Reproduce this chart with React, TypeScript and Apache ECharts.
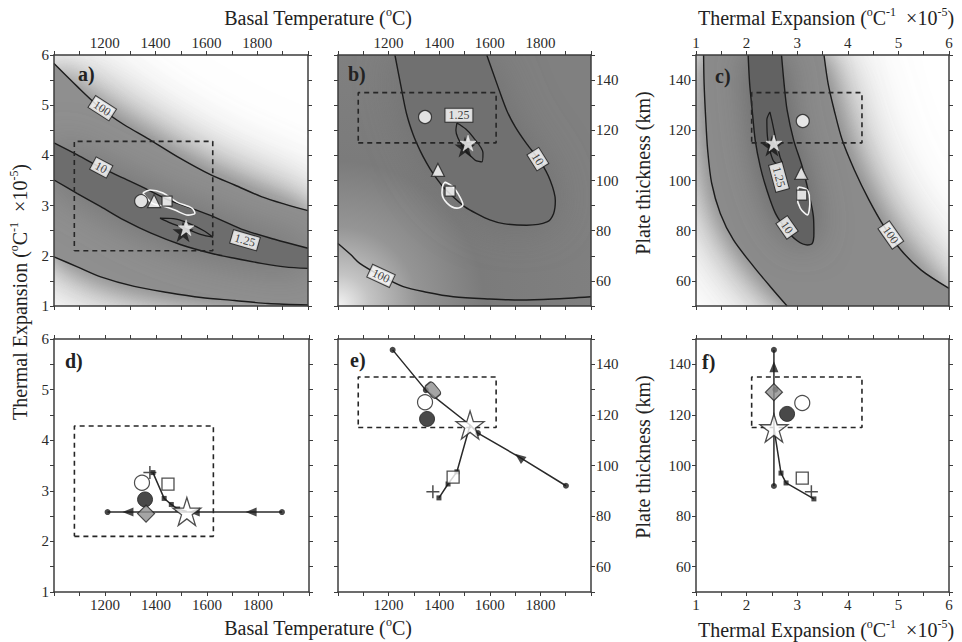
import React, { useEffect, useRef } from 'react';
import * as echarts from 'echarts';

// ---------------- axis tick labels ----------------
const temperatureLabels = [1200, 1400, 1600, 1800];
const expansionLabels = [1, 2, 3, 4, 5, 6];
const thicknessLabels = [60, 80, 100, 120, 140];

// ---------------- dashed "preferred range" box ----------------
const boxTemperature = [1080, 1625];
const boxExpansion = [2.1, 4.28];
const boxThickness = [115, 135];

// ---------------- panel a: temperature vs expansion ----------------
const aContour100Upper = [[1000, 5.83], [1092, 5.37], [1184, 4.94], [1276, 4.61], [1368, 4.34], [1487, 3.97], [1618, 3.61], [1711, 3.41], [1816, 3.18], [1908, 3.03], [2000, 2.9]];
const aContour10Upper = [[1000, 4.25], [1092, 4.01], [1184, 3.76], [1276, 3.54], [1368, 3.32], [1447, 3.12], [1539, 2.95], [1632, 2.77], [1750, 2.51], [1868, 2.33], [2000, 2.15]];
const aContour10Lower = [[1000, 3.51], [1092, 3.24], [1184, 2.98], [1276, 2.71], [1382, 2.45], [1500, 2.22], [1618, 2.05], [1711, 1.95], [1816, 1.85], [1908, 1.78], [2000, 1.75]];
const aContour100Lower = [[1000, 1.98], [1092, 1.78], [1184, 1.58], [1316, 1.39], [1447, 1.27], [1579, 1.17], [1711, 1.11], [1842, 1.05], [2000, 1.02]];
const aEllipse125 = [[1417, 2.75], [1470, 2.74], [1524, 2.66], [1590, 2.5], [1626, 2.37], [1580, 2.42], [1524, 2.53], [1460, 2.65], [1417, 2.75]];
const aWhiteContour = [[1350, 3.25], [1378, 3.31], [1429, 3.25], [1484, 3.07], [1543, 2.95], [1555, 2.85], [1528, 2.81], [1476, 2.91], [1429, 2.99], [1386, 3.05], [1350, 3.25]];
const aContourLabels: [number, number, string][] = [[1190, 4.94, '100'], [1186, 3.76, '10'], [1752, 2.31, '1.25']];
const aCircle = [[1343, 3.09]];
const aTriangle = [[1394, 3.09]];
const aSquare = [[1445, 3.09]];
const aStar = [[1520, 2.56]];
const aStarDark = [[1508, 2.48]];

// ---------------- panel b: temperature vs plate thickness ----------------
const bContour10 = [[1225, 150], [1248, 138], [1271, 126.6], [1298, 118], [1324, 112], [1350, 107], [1376, 102.7], [1415, 97.5], [1456, 93.4], [1500, 89.6], [1548, 86.8], [1600, 84.3], [1654, 82.8], [1746, 82.2], [1826, 83.5], [1852, 86.8], [1859, 92], [1839, 100], [1800, 107.5], [1746, 114.6], [1700, 121.5], [1667, 127.9], [1630, 138], [1588, 150]];
const bContour100 = [[1000, 74.9], [1050, 70.5], [1086, 67], [1165, 62.3], [1258, 57.7], [1350, 55.5], [1456, 53.7], [1600, 52.8], [1720, 52.4], [1850, 52.8], [2000, 53.7]];
const bEllipse125 = [[1470, 122.9], [1505, 120.5], [1534, 117.3], [1573, 111], [1569, 107.4], [1541, 108.2], [1494, 113.3], [1466, 120], [1470, 122.9]];
const bWhiteContour = [[1423, 99.4], [1455, 97.4], [1482, 93.4], [1494, 90.2], [1470, 89], [1431, 91], [1411, 95], [1415, 98.2], [1423, 99.4]];
const bContourLabels: [number, number, string][] = [[1478, 126, '1.25'], [1790, 108.5, '10'], [1170, 62, '100']];
const bCircle = [[1344, 125.3]];
const bTriangle = [[1395, 104.2]];
const bSquare = [[1443, 95.8]];
const bStar = [[1514, 114.9]];
const bStarDark = [[1502, 113.3]];

// ---------------- panel c: expansion vs plate thickness ----------------
const cContour100Left = [[1.15, 150], [1.16, 138.7], [1.19, 125.4], [1.23, 112.2], [1.31, 98.9], [1.48, 86.9], [1.74, 76.3], [2.14, 65.7], [2.47, 57.7], [2.8, 50]];
const cContour100Right = [[6.0, 57], [5.45, 64.3], [5.05, 72.3], [4.72, 81.6], [4.42, 92.2], [4.13, 104.2], [3.89, 116.1], [3.73, 128.1], [3.61, 138.7], [3.53, 150]];
const cContour10Left = [[2.03, 150], [2.06, 138.7], [2.11, 128.1], [2.17, 116.1], [2.27, 105.5], [2.4, 96.2], [2.57, 86.9], [2.79, 80.3], [3.0, 76], [3.2, 74.3]];
const cContour10Right = [[3.3, 75], [3.33, 79], [3.32, 85.6], [3.23, 94.9], [3.1, 105.5], [2.93, 116.1], [2.8, 128.1], [2.74, 138.7], [2.69, 150]];
const cEllipse125 = [[2.46, 127.3], [2.52, 122], [2.58, 116.1], [2.66, 109.4], [2.7, 107], [2.62, 106.5], [2.52, 108.2], [2.42, 116.1], [2.4, 124.1], [2.46, 127.3]];
const cWhiteContour = [[3.02, 97.4], [3.2, 96.2], [3.25, 91], [3.2, 86.3], [3.06, 89], [3.0, 93.4], [3.02, 97.4]];
const cContourLabels: [number, number, string][] = [[2.64, 101.4, '1.25'], [2.8, 81.3, '10'], [4.85, 78.3, '100']];
const cCircle = [[3.11, 123.7]];
const cTriangle = [[3.08, 103]];
const cSquare = [[3.09, 94.2]];
const cStar = [[2.54, 114.9]];
const cStarDark = [[2.5, 113.7]];

// ---------------- panel d ----------------
const dPathMain = [[1210, 2.58], [1894, 2.58]];
const dDots = [[1210, 2.58], [1894, 2.58]];
const dArrows = [[1290, 2.58], [1550, 2.58], [1773, 2.58]];
const dPathSecond = [[1388, 3.36], [1432, 2.85], [1460, 2.73], [1485, 2.64], [1521, 2.59]];
const dSmallSquares = [[1388, 3.36], [1432, 2.85], [1460, 2.73], [1485, 2.64]];
const dWhiteCircle = [[1345, 3.16]];
const dBlackCircle = [[1357, 2.83]];
const dDiamond = [[1361, 2.55]];
const dSquare = [[1447, 3.13]];
const dPlus = [[1376, 3.36]];
const dStar = [[1521, 2.59]];

// ---------------- panel e ----------------
const ePathMain = [[1216, 145.7], [1347, 129.8], [1522, 116], [1553, 112.8], [1717, 103.3], [1901, 92]];
const eDots = [[1216, 145.7], [1347, 129.8], [1553, 112.8], [1901, 92]];
const eArrows = [[1717, 103.3]];
const ePathSecond = [[1399, 87.2], [1435, 92.7], [1470, 97.5], [1522, 116]];
const eSmallSquares = [[1399, 87.2], [1435, 92.7], [1470, 97.5]];
const eWhiteCircle = [[1344, 125]];
const eBlackCircle = [[1352, 118.4]];
const eDiamond = [[1375, 129.8]];
const eSquare = [[1455, 95.4]];
const ePlus = [[1375, 89.6]];
const eStar = [[1522, 116]];

// ---------------- panel f ----------------
const fPathMain = [[2.54, 145.7], [2.54, 91.9]];
const fDots = [[2.54, 145.7], [2.57, 130], [2.54, 91.9]];
const fArrows = [[2.54, 139]];
const fPathSecond = [[2.54, 114.8], [2.68, 97], [2.78, 93.1], [3.33, 86.8]];
const fSmallSquares = [[2.68, 97], [2.78, 93.1], [3.33, 86.8]];
const fWhiteCircle = [[3.1, 124.7]];
const fBlackCircle = [[2.8, 120.4]];
const fDiamond = [[2.54, 129]];
const fSquare = [[3.1, 95]];
const fPlus = [[3.28, 89.6]];
const fStar = [[2.54, 114.8]];

// ---------------- styling ----------------
const SERIF = '"Liberation Serif", "DejaVu Serif", serif';
const INK = '#222';
const FRAME = '#3c3c3c';
const STAR = 'path://M50,0L61.2,34.5L97.6,34.5L68.2,55.9L79.4,90.5L50,69.1L20.6,90.5L31.8,55.9L2.4,34.5L38.8,34.5Z';
const PLUS = 'path://M0,6L12,6M6,0L6,12';

const GRIDS = [
  { left: 54, top: 55, width: 254, height: 251 },
  { left: 338, top: 55, width: 253, height: 251 },
  { left: 696, top: 55, width: 253, height: 251 },
  { left: 54, top: 339, width: 255, height: 253 },
  { left: 338, top: 339, width: 253, height: 253 },
  { left: 696, top: 339, width: 253, height: 253 },
];

const AXES: Record<string, { min: number; max: number; interval: number; labels: number[] }> = {
  T: { min: 1000, max: 2000, interval: 100, labels: temperatureLabels },
  A: { min: 1, max: 6, interval: 0.5, labels: expansionLabels },
  L: { min: 50, max: 150, interval: 10, labels: thicknessLabels },
};

const PANELS = [
  { x: 'T', y: 'A', xl: 'top', yl: 'left' },
  { x: 'T', y: 'L', xl: 'top', yl: 'right' },
  { x: 'A', y: 'L', xl: 'top', yl: 'left' },
  { x: 'T', y: 'A', xl: 'bottom', yl: 'left' },
  { x: 'T', y: 'L', xl: 'bottom', yl: 'right' },
  { x: 'A', y: 'L', xl: 'bottom', yl: 'left' },
];

function axis(gi: number, pos: string, show: boolean, kind: string) {
  const c = AXES[kind];
  return {
    type: 'value', gridIndex: gi, position: pos, min: c.min, max: c.max, interval: c.interval, z: 10,
    axisLine: { show: true, onZero: false, lineStyle: { color: FRAME, width: 1.5 } },
    axisTick: { show: true, inside: false, length: 4, lineStyle: { color: FRAME, width: 1 } },
    splitLine: { show: false },
    axisLabel: {
      show: show, margin: 5, fontFamily: SERIF, fontSize: 15, color: '#2a2a2a',
      showMinLabel: true, showMaxLabel: true, hideOverlap: false,
      formatter: (v: number) => (c.labels.includes(v) ? String(v) : ''),
    },
  };
}

const ax = (gi: number) => ({ xAxisIndex: 2 * gi, yAxisIndex: 2 * gi, silent: true, animation: false });

function line(gi: number, data: number[][], color: string, width: number, z: number, opts: any = {}) {
  return { type: 'line', ...ax(gi), data, symbol: 'none', smooth: opts.smooth ?? 0.3, z,
    lineStyle: { color, width, type: opts.dash ?? 'solid' } };
}

function scat(gi: number, data: number[][], symbol: string, size: any, style: any, z: number, rotate = 0) {
  return { type: 'scatter', ...ax(gi), data, symbol, symbolSize: size, symbolRotate: rotate, itemStyle: style, z };
}

function shade(gi: number, pts: number[][], fill: string, blur: number, shadow?: string) {
  return {
    type: 'custom', ...ax(gi), clip: true, z: 1, data: [pts[0]],
    renderItem: (_p: any, api: any) => ({
      type: 'polygon',
      shape: { points: pts.map((q) => api.coord(q)) },
      style: { fill, shadowBlur: blur, shadowColor: shadow ?? fill },
    }),
  };
}

function labels(gi: number, items: [number, number, string][], angles: number[]) {
  return {
    type: 'scatter', ...ax(gi), symbolSize: 1, itemStyle: { color: 'rgba(0,0,0,0)' }, z: 8,
    data: items.map(([x, y, t], i) => ({ value: [x, y], name: t, label: { rotate: angles[i] } })),
    label: { show: true, position: 'inside', formatter: '{b}', fontFamily: SERIF, fontSize: 12, color: '#111',
      backgroundColor: '#fff', borderColor: INK, borderWidth: 1, padding: [1, 3, 0, 3] },
  };
}

function box(xr: number[], yr: number[]) {
  return [[xr[0], yr[0]], [xr[1], yr[0]], [xr[1], yr[1]], [xr[0], yr[1]], [xr[0], yr[0]]];
}

const whiteMark = { color: '#fff', borderColor: INK, borderWidth: 1.2 };

function topMarkers(gi: number, circle: number[][], tri: number[][], sq: number[][], star: number[][], starDark: number[][]) {
  return [
    scat(gi, circle, 'circle', 13, whiteMark, 6),
    scat(gi, tri, 'triangle', 13, whiteMark, 6),
    scat(gi, sq, 'rect', 10, whiteMark, 6),
    scat(gi, starDark, STAR, 21, { color: '#161616' }, 6),
    scat(gi, star, STAR, 16, { color: '#fff', borderColor: '#fff', borderWidth: 0.5 }, 7),
  ];
}

function bottomMarkers(gi: number, wc: number[][], bc: number[][], dia: number[][], sq: number[][], plus: number[][], star: number[][], diaSize: any, diaRot: number, diaSym: string) {
  return [
    scat(gi, wc, 'circle', 15, whiteMark, 6),
    scat(gi, bc, 'circle', 15, { color: '#1c1c1c', borderColor: INK, borderWidth: 1 }, 6),
    scat(gi, dia, diaSym, diaSize, { color: '#8e8e8e', borderColor: INK, borderWidth: 1.2 }, 6, diaRot),
    scat(gi, sq, 'rect', 12, { color: '#fff', borderColor: INK, borderWidth: 1.3 }, 6),
    scat(gi, plus, PLUS, 13, { color: 'rgba(0,0,0,0)', borderColor: INK, borderWidth: 1.5 }, 6),
    scat(gi, star, STAR, 28, { color: '#fff', borderColor: INK, borderWidth: 1.3 }, 7),
  ];
}

function pathSeries(gi: number, main: number[][], second: number[][], dots: number[][], squares: number[][], arrows: number[][], arrowRot: number) {
  return [
    line(gi, main, '#2a2a2a', 1.5, 4, { smooth: false }),
    line(gi, second, '#2a2a2a', 1.5, 4, { smooth: false }),
    scat(gi, dots, 'circle', 6, { color: '#1a1a1a' }, 5),
    scat(gi, squares, 'rect', 5, { color: '#1a1a1a' }, 5),
    scat(gi, arrows, 'triangle', [9, 11], { color: '#1a1a1a' }, 5, arrowRot),
  ];
}

function buildOption() {
  const xAxes: any[] = [];
  const yAxes: any[] = [];
  PANELS.forEach((p, gi) => {
    xAxes.push(axis(gi, 'bottom', p.xl === 'bottom', p.x), axis(gi, 'top', p.xl === 'top', p.x));
    yAxes.push(axis(gi, 'left', p.yl === 'left', p.y), axis(gi, 'right', p.yl === 'right', p.y));
  });

  const grids = GRIDS.map((g, i) => ({
    ...g,
    show: i === 1,
    borderWidth: 0,
    backgroundColor: i === 1
      ? new echarts.graphic.RadialGradient(0, 1, 1.05, [
          { offset: 0, color: '#f4f4f4' },
          { offset: 0.12, color: '#c4c4c4' },
          { offset: 0.3, color: '#959595' },
          { offset: 0.55, color: '#7b7b7b' },
          { offset: 1, color: '#808080' },
        ])
      : 'transparent',
  }));

  const aBand100 = [...aContour100Upper, ...[...aContour100Lower].reverse()];
  const aBand10 = [...aContour10Upper, ...[...aContour10Lower].reverse()];
  const cBand100 = [...cContour100Left, [AXES.A.max, AXES.L.min], ...cContour100Right];
  const cBand10 = [...cContour10Left, ...cContour10Right];

  const cLine = '#1c1c1c';
  const series: any[] = [
    // ---- a ----
    shade(0, aBand100, '#8f8f8f', 80, '#8a8a8a'),
    shade(0, aBand100, '#8f8f8f', 50, '#8a8a8a'),
    shade(0, aBand100, '#8f8f8f', 25, '#8a8a8a'),
    shade(0, aBand10, '#6d6d6d', 40),
    line(0, aContour100Upper, cLine, 1.4, 3),
    line(0, aContour10Upper, cLine, 1.4, 3),
    line(0, aContour10Lower, cLine, 1.4, 3),
    line(0, aContour100Lower, cLine, 1.4, 3),
    line(0, aEllipse125, cLine, 1.3, 3),
    line(0, aWhiteContour, '#f4f4f4', 1.6, 3),
    line(0, box(boxTemperature, boxExpansion), '#262626', 1.6, 4, { smooth: false, dash: [5, 4] }),
    labels(0, aContourLabels, [-33, -28, -16]),
    ...topMarkers(0, aCircle, aTriangle, aSquare, aStar, aStarDark),
    // ---- b ----
    shade(1, bContour10, '#707070', 45),
    line(1, bContour10, cLine, 1.4, 3),
    line(1, bContour100, cLine, 1.4, 3),
    line(1, bEllipse125, cLine, 1.3, 3),
    line(1, bWhiteContour, '#f4f4f4', 1.6, 3),
    line(1, box(boxTemperature, boxThickness), '#262626', 1.6, 4, { smooth: false, dash: [5, 4] }),
    labels(1, bContourLabels, [0, -58, -25]),
    ...topMarkers(1, bCircle, bTriangle, bSquare, bStar, bStarDark),
    // ---- c ----
    shade(2, cBand100, '#8b8b8b', 80, '#888888'),
    shade(2, cBand100, '#8b8b8b', 50, '#888888'),
    shade(2, cBand100, '#8b8b8b', 25, '#888888'),
    shade(2, cBand10, '#626262', 35),
    line(2, cContour100Left, cLine, 1.4, 3),
    line(2, cContour100Right, cLine, 1.4, 3),
    line(2, cBand10, cLine, 1.4, 3),
    line(2, cEllipse125, cLine, 1.3, 3),
    line(2, cWhiteContour, '#f4f4f4', 1.6, 3),
    line(2, box(boxExpansion, boxThickness), '#262626', 1.6, 4, { smooth: false, dash: [5, 4] }),
    labels(2, cContourLabels, [-75, -55, -55]),
    ...topMarkers(2, cCircle, cTriangle, cSquare, cStar, cStarDark),
    // ---- d ----
    line(3, box(boxTemperature, boxExpansion), '#262626', 1.6, 3, { smooth: false, dash: [5, 4] }),
    ...pathSeries(3, dPathMain, dPathSecond, dDots, dSmallSquares, dArrows, 90),
    ...bottomMarkers(3, dWhiteCircle, dBlackCircle, dDiamond, dSquare, dPlus, dStar, 17, 0, 'diamond'),
    // ---- e ----
    line(4, box(boxTemperature, boxThickness), '#262626', 1.6, 3, { smooth: false, dash: [5, 4] }),
    ...pathSeries(4, ePathMain, ePathSecond, eDots, eSmallSquares, eArrows, 52),
    ...bottomMarkers(4, eWhiteCircle, eBlackCircle, eDiamond, eSquare, ePlus, eStar, [16, 10], -50, 'roundRect'),
    // ---- f ----
    line(5, box(boxExpansion, boxThickness), '#262626', 1.6, 3, { smooth: false, dash: [5, 4] }),
    ...pathSeries(5, fPathMain, fPathSecond, fDots, fSmallSquares, fArrows, 0),
    ...bottomMarkers(5, fWhiteCircle, fBlackCircle, fDiamond, fSquare, fPlus, fStar, 17, 0, 'diamond'),
  ];

  const rich = {
    t: { fontFamily: SERIF, fontSize: 20, fill: INK, lineHeight: 24 },
    s: { fontFamily: SERIF, fontSize: 12, fill: INK, lineHeight: 12, verticalAlign: 'top' },
  };
  const tempTitle = '{t|Basal Temperature (}{s|o}{t|C)}';
  const expTitle = '{t|Thermal Expansion (}{s|o}{t|C}{s|-1}{t|  \u00d710}{s|-5}{t|)}';
  const thickTitle = '{t|Plate thickness (km)}';
  const title = (text: string, x: number, y: number, rot = 0) => ({
    type: 'text', x, y, rotation: rot, z: 20,
    style: { text, rich, align: 'center', verticalAlign: 'middle' },
  });
  const letter = (text: string, x: number, y: number) => ({
    type: 'text', x, y, z: 20,
    style: { text, font: 'bold 20px ' + SERIF, fill: INK, align: 'left', verticalAlign: 'top' },
  });

  return {
    animation: false,
    backgroundColor: '#fff',
    grid: grids,
    xAxis: xAxes,
    yAxis: yAxes,
    series,
    graphic: [
      title(tempTitle, 318, 18),
      title(tempTitle, 318, 628),
      title(expTitle, 826, 18),
      title(expTitle, 826, 630),
      title(expTitle, 20, 292, Math.PI / 2),
      title(thickTitle, 643, 173, Math.PI / 2),
      title(thickTitle, 643, 457, Math.PI / 2),
      letter('a)', 78, 64),
      letter('b)', 348, 64),
      letter('c)', 715, 66),
      letter('d)', 65, 351),
      letter('e)', 350, 350),
      letter('f)', 702, 352),
    ],
  };
}

export default function App() {
  const ref = useRef<HTMLDivElement>(null);
  useEffect(() => {
    const chart = echarts.init(ref.current!, null, { renderer: 'svg' });
    chart.setOption(buildOption() as any);
    return () => chart.dispose();
  }, []);
  return <div ref={ref} style={{ position: 'absolute', left: 0, top: 0, width: 962, height: 642 }} />;
}
